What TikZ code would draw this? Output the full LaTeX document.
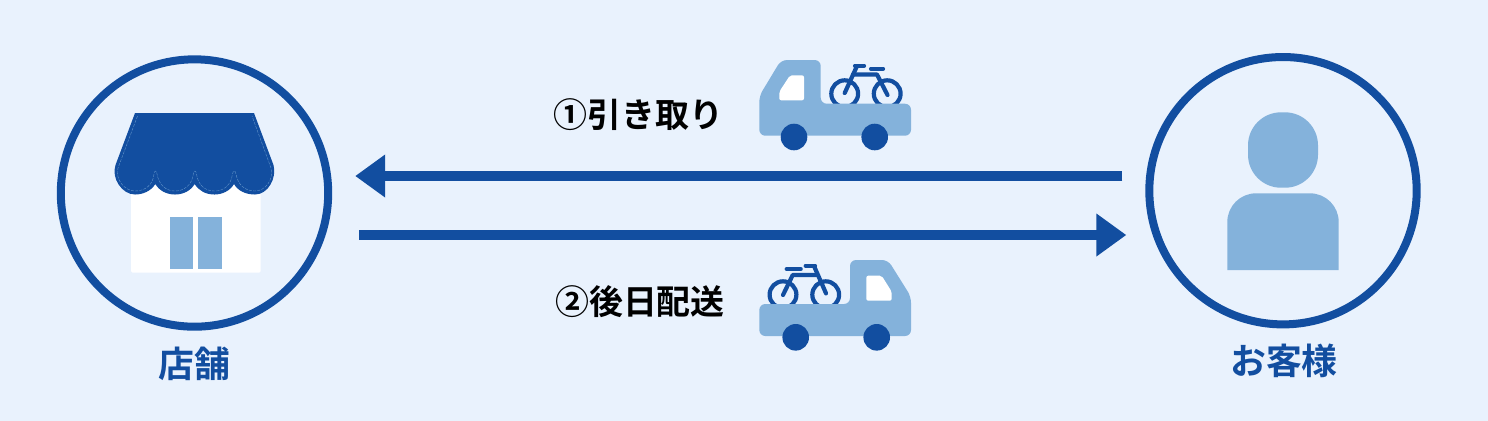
\documentclass[tikz,border=0pt]{standalone}
\usepackage{xcolor}
\usepackage{fontspec}
\usetikzlibrary{arrows.meta}
\setmainfont{Noto Sans CJK JP}[BoldFont={Noto Sans CJK JP Bold}]
\definecolor{deliveryblue}{HTML}{124EA0}
\definecolor{softblue}{HTML}{84B2DB}
\definecolor{paleblue}{HTML}{E9F2FD}

\begin{document}
\begin{tikzpicture}[
    x=0.01cm, y=-0.01cm,
    party/.style={circle, draw=deliveryblue, line width=0.08cm, minimum size=2.672cm, inner sep=0pt},
    partyname/.style={inner sep=0pt, text=deliveryblue, font=\fontsize{10.2pt}{12pt}\bfseries},
    routename/.style={inner sep=0pt, text=black, font=\fontsize{9.65pt}{12pt}\bfseries},
    flow/.style={-{Triangle[length=0.3cm,width=0.41cm]}, deliveryblue, line width=0.1cm},
    truckbody/.style={fill=softblue, rounded corners=0.06cm},
    truckwindow/.style={fill=white, rounded corners=0.02cm},
    truckwheel/.style={fill=deliveryblue},
    bikeline/.style={draw=deliveryblue, line width=0.042cm, line cap=round, line join=round},
    stitch/.style={draw=softblue!70!deliveryblue, line width=0.004cm, dashed, dash pattern=on 0.03cm off 0.012cm}
]
\useasboundingbox (0,0) rectangle (1488,420);
\fill[paleblue] (-5,-5) rectangle (1493,425);

\node[party] (shop) at (194.5,193) {};
\node[party] (customer) at (1283,190.7) {};
\node[partyname] (shopname) at (194.5,364) {店舗};
\node[partyname] (customername) at (1284,361) {お客様};

\coordinate (pickupline) at (0,176);
\coordinate (deliveryline) at (0,235);
\draw[flow, shorten <=0.23cm, shorten >=0.23cm] (customer.west |- pickupline) -- (shop.east |- pickupline);
\draw[flow, shorten <=0.27cm, shorten >=0.19cm] (shop.east |- deliveryline) -- (customer.west |- deliveryline);

\node[routename] (pickupname) at (638.5,115) {①引き取り};
\node[routename] (deliveryname) at (640,302) {②後日配送};

\fill[white, rounded corners=0.015cm] (131,185) rectangle (260.7,272.7);
\fill[softblue] (170,216.7) rectangle (193.3,269.3);
\fill[softblue] (198,216.7) rectangle (221.7,269.3);
\fill[deliveryblue] (135,113) -- (254,113) -- (273.5,165)
    .. controls (277,178) and (268,194.5) .. (255,194.5)
    .. controls (246,194.5) and (238,191) .. (234,184)
    .. controls (230,191) and (222,194.5) .. (214.5,194.5)
    .. controls (206,194.5) and (199,191) .. (194.7,184)
    .. controls (190.5,191) and (183,194.5) .. (175,194.5)
    .. controls (167,194.5) and (159.5,191) .. (155.3,184)
    .. controls (151,191) and (143,194.5) .. (135,194.5)
    .. controls (122,194.5) and (111,178) .. (115.5,165) -- cycle;
\draw[stitch] (137.5,116) -- (118,168)
    .. controls (115,180) and (125,191) .. (135,191)
    .. controls (145,191) and (153,185) .. (154,174)
    .. controls (154.5,170) and (157,170) .. (157,174)
    .. controls (159,185) and (166,191) .. (175,191)
    .. controls (184,191) and (192,185) .. (193.3,174)
    .. controls (193.8,170) and (196,170) .. (196.5,174)
    .. controls (198,185) and (205,191) .. (214.5,191)
    .. controls (224,191) and (231,185) .. (232.5,174)
    .. controls (233,170) and (235.5,170) .. (236,174)
    .. controls (238,185) and (245,191) .. (255,191)
    .. controls (265,191) and (274,180) .. (271,168) -- (252,116);

\draw[bikeline] (844.7,93.7) circle (13.4);
\draw[bikeline] (887.2,93.7) circle (13.4);
\draw[bikeline] (855,65.7) -- (864,65.7);
\draw[bikeline] (857,66) -- (844.7,93);
\draw[bikeline] (853,74.5) -- (877,74.5) -- (887.5,95);
\draw[bikeline] (871,68.7) -- (883,68.7);
\fill[truckbody] (759.3,135.7) -- (759.3,96) -- (781,60) -- (820.7,60) -- (820.7,103.7) -- (911,103.7) -- (911,135.7) -- cycle;
\fill[truckwindow] (779.3,100.3) -- (779.3,91.7) -- (790,75.3) -- (804,75.3) -- (804,100.3) -- cycle;
\fill[truckwheel] (794,137) circle (13.3);
\fill[truckwheel] (874.7,137) circle (13.3);

\draw[bikeline] (783,294.7) circle (13.4);
\draw[bikeline] (825.7,294.7) circle (13.4);
\draw[bikeline] (805.7,265.7) -- (815,265.7);
\draw[bikeline] (814,266) -- (826,293.3);
\draw[bikeline] (817.3,275) -- (792.7,275) -- (783,295);
\draw[bikeline] (786.7,269) -- (800.7,269);
\fill[truckbody] (759.3,304) -- (850,304) -- (850,260) -- (888,260) -- (911,296.7) -- (911,336) -- (759.3,336) -- cycle;
\fill[truckwindow] (866.3,300.7) -- (866.3,275.7) -- (881.7,275.7) -- (891.7,291.7) -- (891.7,300.7) -- cycle;
\fill[truckwheel] (795.7,337.3) circle (13.3);
\fill[truckwheel] (876.7,337.3) circle (13.3);

\fill[softblue, rounded corners=0.33cm] (1248,112.3) rectangle (1318,187.7);
\fill[softblue] (1227.3,270) -- (1227.3,222) arc[start angle=180, end angle=90, radius=0.287cm] -- (1310,193.3) arc[start angle=90, end angle=0, radius=0.287cm] -- (1338.7,270) -- cycle;
\end{tikzpicture}
\end{document}
